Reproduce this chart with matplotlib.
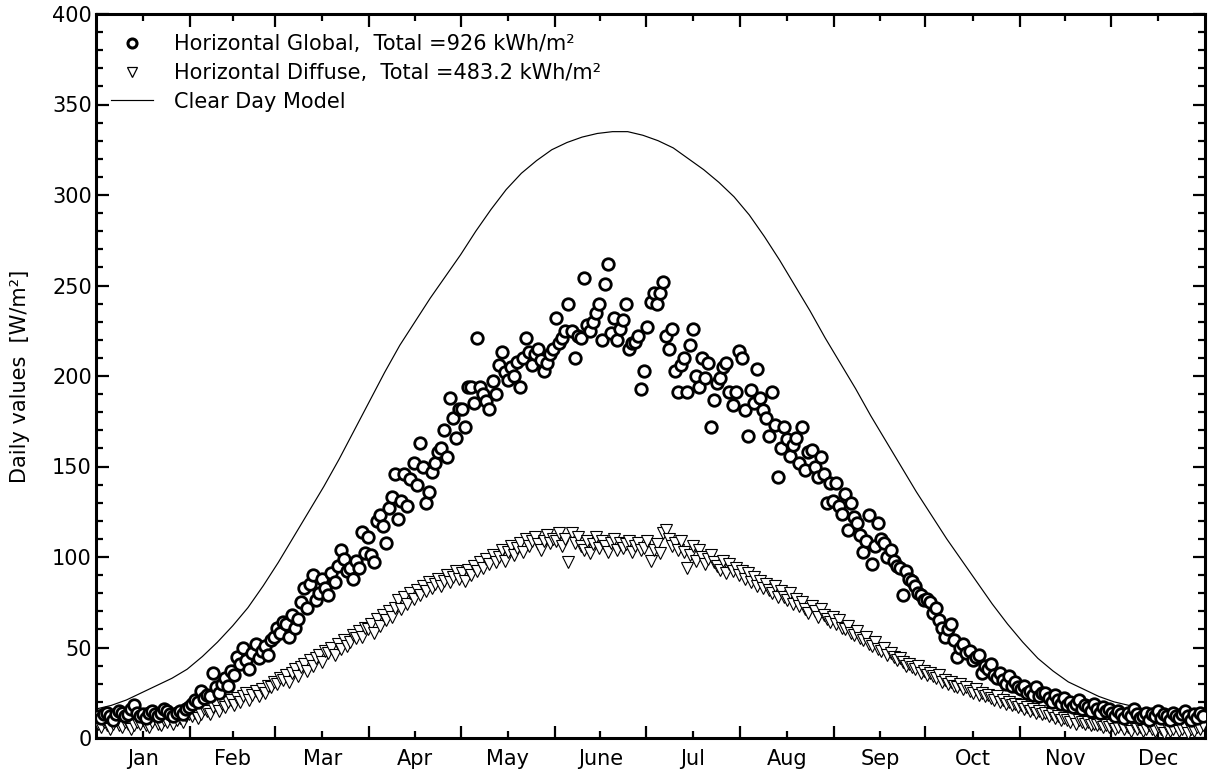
import numpy as np
import matplotlib
matplotlib.use("Agg")
import matplotlib.pyplot as plt
from matplotlib.ticker import FixedLocator, NullFormatter, MultipleLocator
from matplotlib.lines import Line2D

# ---------------- data (daily values, W/m2) ----------------
global_jan = [12,11,13,14,12,10,13,15,14,12,13,16,18,14,12,13,11,14,15,13,12,14,16,15,13,12,14,15,13,16,17]
global_feb = [19,21,20,26,22,24,23,36,28,25,30,33,29,37,35,45,41,50,43,38,47,52,44,48,51,46,54,56]
global_mar = [61,58,64,63,56,68,61,66,75,83,72,85,90,76,80,88,83,79,91,86,95,104,99,92,94,88,98,94,114,102,111]
global_apr = [101,97,120,123,117,108,127,133,146,121,131,146,128,143,152,140,163,150,130,136,147,152,158,160,170,155,188,177,166,182]
global_may = [182,172,194,194,185,221,194,190,186,182,197,190,206,213,202,198,205,200,208,194,210,221,213,206,212,215,209,203,207,212,215]
global_jun = [232,218,221,225,240,225,210,222,221,254,228,225,230,235,240,220,251,262,224,232,220,226,231,240,215,218,219,222,193,203]
global_jul = [227,241,246,240,246,252,222,215,226,203,191,206,210,191,217,226,200,194,210,199,207,172,187,196,199,205,207,191,184,191,214]
global_aug = [210,181,167,192,185,204,188,181,177,167,191,173,144,160,172,165,156,162,166,152,172,148,158,159,150,144,155,146,130,141,131]
global_sep = [141,128,124,135,115,130,122,119,112,103,109,123,96,106,119,110,108,100,104,98,95,94,79,92,88,87,84,80,79,76]
global_oct = [77,75,69,72,65,61,56,60,63,54,45,50,52,47,48,43,45,46,36,40,38,41,35,33,36,32,30,34,29,31,28]
global_nov = [27,29,25,26,24,28,23,25,25,22,20,24,21,19,22,18,20,17,19,21,16,18,17,15,19,16,14,17,15,16]
global_dec = [14,12,15,13,11,14,12,16,13,11,12,14,10,13,12,15,11,13,12,10,14,12,11,13,15,12,10,13,11,14,12]

diffuse_jan = [8,6,9,7,5,8,10,7,6,9,8,5,7,9,8,10,7,6,9,11,8,7,10,9,12,8,10,11,9,12,13]
diffuse_feb = [12,14,11,13,16,15,13,17,18,15,19,17,20,21,18,22,20,23,25,21,24,26,23,27,25,29,28,31]
diffuse_mar = [30,33,32,35,31,36,38,34,39,41,37,43,40,44,46,42,48,47,50,46,52,49,54,51,53,57,55,59,56,61,60]
diffuse_apr = [63,58,66,62,68,65,70,67,72,76,71,78,74,80,77,82,79,84,81,86,83,85,88,84,87,90,86,89,92,88]
diffuse_may = [91,87,93,90,95,92,97,94,99,96,101,97,100,104,98,103,106,101,105,108,103,110,106,109,111,107,104,109,112,108,110]
diffuse_jun = [109,113,106,110,97,113,108,111,106,104,109,102,107,111,105,109,106,103,108,110,104,108,105,107,109,103,106,108,104,105]
diffuse_jul = [109,98,104,107,102,113,115,110,106,108,104,109,103,94,101,106,98,104,100,96,99,101,97,95,93,98,91,96,92,94,90]
diffuse_aug = [92,88,91,86,89,84,87,83,85,82,80,84,78,81,78,76,80,74,77,73,75,71,69,73,70,67,71,68,66,64,67]
diffuse_sep = [63,65,61,60,62,58,57,59,55,54,56,52,51,53,49,48,50,46,47,45,43,44,42,40,41,39,38,40,36,37]
diffuse_oct = [35,36,34,33,35,31,32,30,31,29,28,30,27,28,26,25,27,24,25,23,24,22,21,23,20,21,19,20,18,19,17]
diffuse_nov = [18,16,17,15,16,14,15,13,14,12,13,11,12,10,11,10,9,11,8,10,9,8,9,7,8,7,8,6,7,6]
diffuse_dec = [7,5,6,8,5,6,4,7,5,6,4,5,7,5,4,6,5,3,6,4,5,7,4,5,6,3,5,4,6,5,7]

clear_days = [0,5,10,15,20,25,30,35,40,45,50,55,60,65,70,75,80,85,90,95,100,105,110,115,120,125,130,135,140,145,150,155,160,165,170,175,180,185,190,195,200,205,210,215,220,225,230,235,240,245,250,255,260,265,270,275,280,285,290,295,300,305,310,315,320,325,330,335,340,345,350,355,360,365]
clear_vals = [16,18,21,25,29,33,38,45,53,62,72,84,97,111,125,139,154,170,186,202,217,230,243,255,267,280,292,303,312,319,325,329,332,334,335,335,333,330,326,320,314,307,299,289,277,264,250,236,221,207,193,178,164,150,136,123,110,98,86,74,63,53,44,37,31,27,23,20,18,16,15,14,14,14]

month_labels = ["Jan","Feb","Mar","Apr","May","June","Jul","Aug","Sep","Oct","Nov","Dec"]
month_lengths = [31,28,31,30,31,30,31,31,30,31,30,31]

label_global = "Horizontal Global,  Total =926 kWh/m\u00b2"
label_diffuse = "Horizontal Diffuse,  Total =483.2 kWh/m\u00b2"
label_clear = "Clear Day Model"
ylabel = "Daily values  [W/m\u00b2]"

# ---------------- assemble ----------------
glob = np.array(global_jan + global_feb + global_mar + global_apr + global_may + global_jun +
                global_jul + global_aug + global_sep + global_oct + global_nov + global_dec, float)
diff = np.array(diffuse_jan + diffuse_feb + diffuse_mar + diffuse_apr + diffuse_may + diffuse_jun +
                diffuse_jul + diffuse_aug + diffuse_sep + diffuse_oct + diffuse_nov + diffuse_dec, float)
days_g = np.arange(len(glob)) + 0.5
days_d = np.arange(len(diff)) + 0.5

bounds = np.concatenate([[0], np.cumsum(month_lengths)])
mids = (bounds[:-1] + bounds[1:]) / 2.0

plt.rcParams['font.family'] = ['DejaVu Sans']
FS = 15

fig = plt.figure(figsize=(12.08, 7.71), dpi=100)
ax = fig.add_axes([96/1208, (771-738)/771, (1205-96)/1208, (738-14)/771])

ax.plot(clear_days, clear_vals, color='black', lw=0.85, zorder=2)
ax.plot(days_d, diff, linestyle='none', marker='v', markersize=8.5, markerfacecolor='white',
        markeredgecolor='black', markeredgewidth=0.8, zorder=3)
ax.plot(days_g, glob, linestyle='none', marker='o', markersize=8.3, markerfacecolor='white',
        markeredgecolor='black', markeredgewidth=2.0, zorder=4)

ax.set_xlim(0, 365)
ax.set_ylim(0, 400)

for s in ax.spines.values():
    s.set_linewidth(2.2)

ax.yaxis.set_major_locator(MultipleLocator(50))
ax.yaxis.set_minor_locator(MultipleLocator(10))
ax.xaxis.set_major_locator(FixedLocator(bounds[1:-1]))
ax.xaxis.set_major_formatter(NullFormatter())
ax.xaxis.set_minor_locator(FixedLocator(mids))
ax.set_xticklabels(month_labels, minor=True)

ax.tick_params(which='both', direction='in', top=True, right=True, width=1.6, colors='black')
ax.tick_params(which='major', length=9)
ax.tick_params(which='minor', length=5)
ax.tick_params(axis='x', which='minor', labelsize=FS, pad=8)
ax.tick_params(axis='y', which='major', labelsize=FS, pad=3)

ax.set_ylabel(ylabel, fontsize=FS, labelpad=16)

handles = [
    Line2D([], [], linestyle='none', marker='o', markersize=6.5, markerfacecolor='white',
           markeredgecolor='black', markeredgewidth=2.2),
    Line2D([], [], linestyle='none', marker='v', markersize=7.5, markerfacecolor='white',
           markeredgecolor='black', markeredgewidth=0.9),
    Line2D([], [], color='black', lw=0.85),
]
leg = ax.legend(handles, [label_global, label_diffuse, label_clear], loc='upper left',
                bbox_to_anchor=(0.010, 0.978), frameon=False, fontsize=FS,
                labelspacing=0.42, handlelength=2.0, handletextpad=1.0, borderpad=0.2,
                borderaxespad=0.0)

fig.savefig("out.png", dpi=100, facecolor='white')
